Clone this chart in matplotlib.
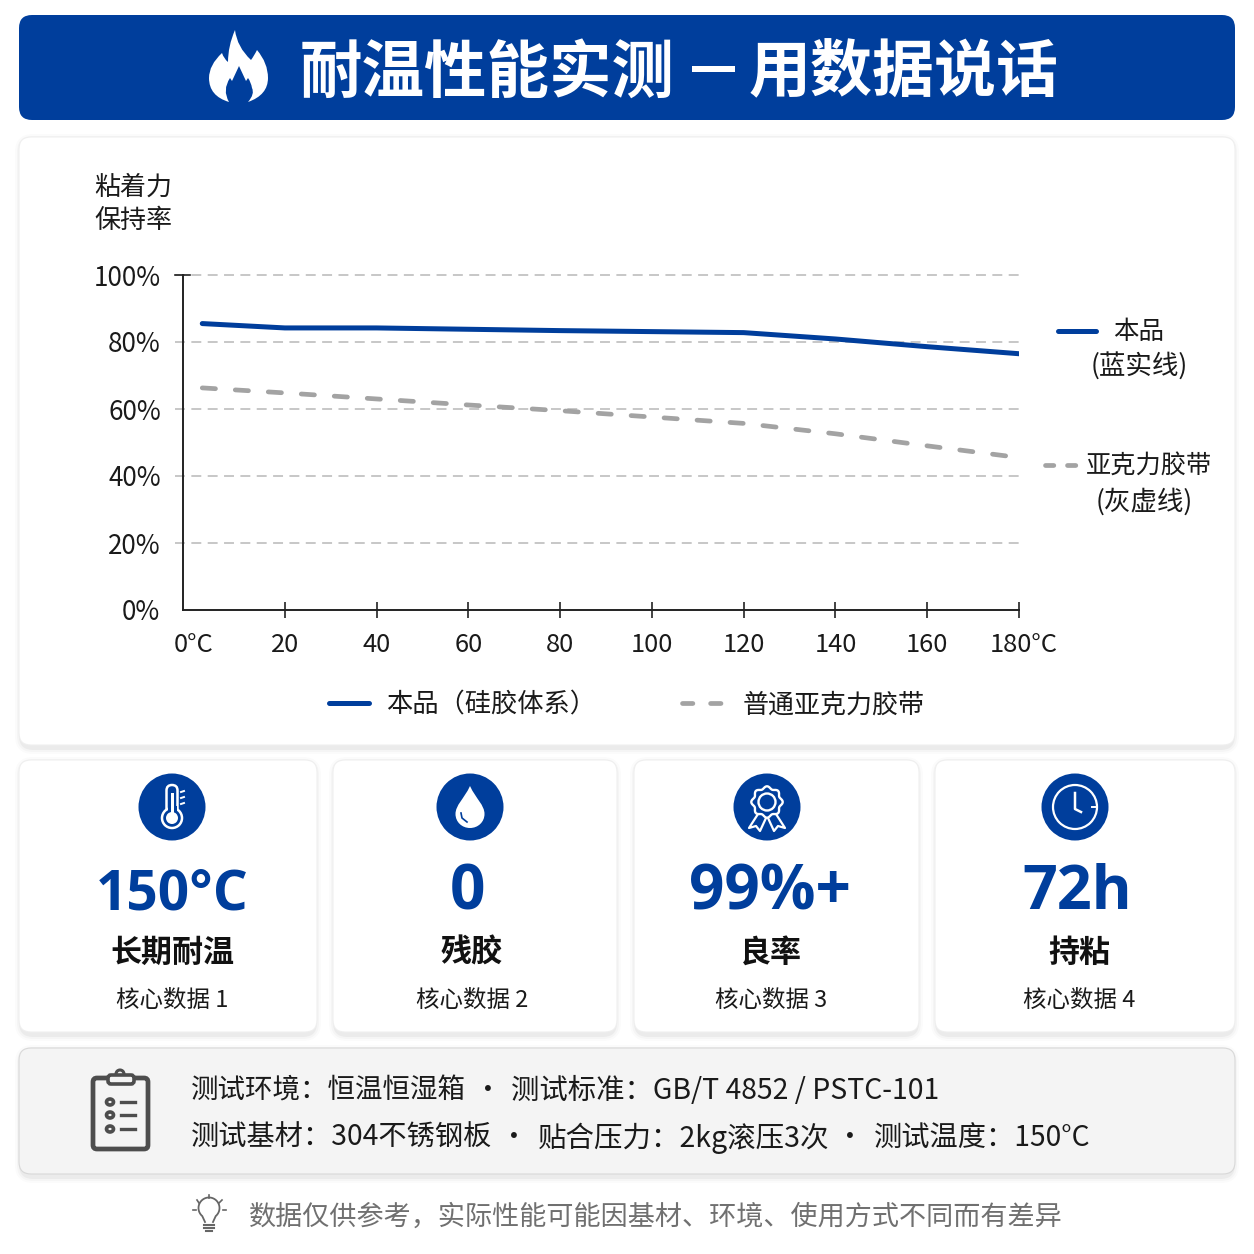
#!/usr/bin/env python3
"""Adhesion retention vs temperature infographic."""
import matplotlib
matplotlib.use("Agg")
import matplotlib.pyplot as plt
import numpy as np
from matplotlib.patches import Circle, Ellipse, FancyBboxPatch, PathPatch, Rectangle
from matplotlib.path import Path
from matplotlib.transforms import ScaledTranslation

plt.rcParams["font.family"] = ["Noto Sans CJK SC", "DejaVu Sans"]
plt.rcParams["font.weight"] = 500

temps = [2, 20, 40, 60, 80, 100, 120, 140, 160, 180]
product = [85.5, 84.2, 84.2, 83.8, 83.4, 83.1, 82.8, 80.9, 78.6, 76.5]
acrylic = [66.3, 64.8, 63.0, 61.2, 59.5, 57.6, 55.7, 52.6, 49.0, 45.5]
x_ticks = [0, 20, 40, 60, 80, 100, 120, 140, 160, 180]
x_labels = ["0°C", "20", "40", "60", "80", "100", "120", "140", "160", "180°C"]
y_ticks = [0, 20, 40, 60, 80, 100]
y_labels = ["0%", "20%", "40%", "60%", "80%", "100%"]

card_values = ["150°C", "0", "99%+", "72h"]
card_titles = ["长期耐温", "残胶", "良率", "持粘"]
card_subs = ["核心数据 1", "核心数据 2", "核心数据 3", "核心数据 4"]

BLUE = "#003e9c"
GREY = "#a3a3a3"
INK = "#1a1a1a"
W = 1254


def px(size):
    return size * 0.72


def card(ax, x0, y0, x1, y1, fc="white", ec="#efefef", r=12):
    # soft shadow first, then the card itself
    for grow, alpha in [(6, 0.015), (4, 0.025), (2, 0.04)]:
        ax.add_patch(FancyBboxPatch((x0 - grow + 2, y0 - grow + 3), x1 - x0 + 2 * grow - 4,
                                    y1 - y0 + 2 * grow,
                                    boxstyle=f"round,pad=0,rounding_size={r + grow}",
                                    fc="black", ec="none", alpha=alpha, zorder=1))
    ax.add_patch(FancyBboxPatch((x0, y0), x1 - x0, y1 - y0, boxstyle=f"round,pad=0,rounding_size={r}",
                                fc=fc, ec=ec, lw=0.8, zorder=2))


def flame(ax):
    M, C, L = Path.MOVETO, Path.CURVE3, Path.LINETO
    verts = [(235, 30), (237, 47), (251, 60), (254, 56), (257, 50), (268, 63), (268, 78), (268, 95), (248, 102),
             (255, 94), (252, 88), (251, 82), (248, 78), (246, 81), (239, 66), (232, 81), (230, 78),
             (222, 90), (229, 102), (209, 96), (209, 78), (209, 65), (222, 53), (224, 59), (228, 62),
             (228, 46), (235, 30)]
    codes = [M, C, C, C, C, C, C, C, C, C, C, C, C, L, L, L, L, C, C, C, C, C, C, C, C, C, C]
    ax.add_patch(PathPatch(Path(verts, codes), fc="white", ec="none", zorder=4))


def icon_thermo(ax, cx, cy):
    w = "white"
    ax.add_patch(FancyBboxPatch((cx - 5.5, cy - 22), 11, 34, boxstyle="round,pad=0,rounding_size=5.5",
                                fc=BLUE, ec=w, lw=1.8, zorder=5))
    ax.add_patch(Circle((cx, cy + 11), 10, fc=BLUE, ec=w, lw=1.8, zorder=5))
    ax.add_patch(Rectangle((cx - 4.5, cy - 1), 9, 8, fc=BLUE, ec="none", zorder=5))
    ax.add_patch(Circle((cx, cy + 11), 6, fc=w, ec="none", zorder=6))
    ax.add_patch(Rectangle((cx - 1.5, cy - 14), 3, 22, fc=w, ec="none", zorder=6))
    for dy in (-15, -9, -3):
        ax.plot([cx + 9, cx + 12], [cy + dy, cy + dy - 1], color=w, lw=1.4, zorder=6)


def icon_drop(ax, cx, cy):
    M, C = Path.MOVETO, Path.CURVE4
    verts = [(cx, cy - 21), (cx + 6, cy - 8), (cx + 14.5, cy - 2), (cx + 14.5, cy + 7),
             (cx + 14.5, cy + 15), (cx + 8, cy + 21), (cx, cy + 21),
             (cx - 8, cy + 21), (cx - 14.5, cy + 15), (cx - 14.5, cy + 7),
             (cx - 14.5, cy - 2), (cx - 6, cy - 8), (cx, cy - 21)]
    ax.add_patch(PathPatch(Path(verts, [M] + [C] * 12), fc="white", ec="none", zorder=5))
    ax.plot([cx - 9, cx - 8, cx - 3], [cy + 6, cy + 11, cy + 15], color=BLUE, lw=1.2, zorder=6)


def icon_ribbon(ax, cx, cy):
    w = "white"
    theta = np.linspace(0, 2 * np.pi, 200)
    r = 14.5 + 1.2 * np.cos(8 * theta)
    ax.fill(cx + r * np.cos(theta), cy - 5 + r * np.sin(theta), fc=BLUE, ec=w, lw=1.7, zorder=6)
    ax.add_patch(Circle((cx, cy - 5), 8.5, fc=BLUE, ec=w, lw=1.7, zorder=7))
    ax.plot([cx - 9, cx - 18, cx - 11, cx - 7, cx - 1], [cy + 7, cy + 21, cy + 19, cy + 24, cy + 11],
            color=w, lw=1.6, zorder=5)
    ax.plot([cx + 9, cx + 18, cx + 11, cx + 7, cx + 1], [cy + 7, cy + 21, cy + 19, cy + 24, cy + 11],
            color=w, lw=1.6, zorder=5)


def icon_clock(ax, cx, cy):
    w = "white"
    ax.add_patch(Circle((cx, cy), 22, fc="none", ec=w, lw=1.6, zorder=5))
    ax.plot([cx, cx, cx + 6], [cy - 14, cy + 2, cy + 5], color=w, lw=1.8, zorder=5)
    ax.plot([cx + 17, cx + 21], [cy, cy], color=w, lw=1.4, zorder=5)


def clipboard(ax):
    c = "#4d4d4d"
    ax.add_patch(FancyBboxPatch((93, 1078), 55, 71, boxstyle="round,pad=0,rounding_size=4",
                                fc="none", ec=c, lw=3.4, zorder=4))
    ax.add_patch(FancyBboxPatch((108, 1075), 26, 9, boxstyle="round,pad=0,rounding_size=3",
                                fc="#f4f4f4", ec=c, lw=2.6, zorder=5))
    ax.add_patch(Circle((120, 1074), 4, fc="#f4f4f4", ec=c, lw=2.2, zorder=4))
    for y in (1102, 1115, 1129):
        ax.add_patch(Ellipse((110, y), 7, 6, fc="none", ec=c, lw=2.6, zorder=5))
        ax.plot([121, 135], [y, y], color=c, lw=2.4, zorder=5)


def bulb(ax):
    c = "#666666"
    t = np.radians(np.linspace(-50, 230, 60))
    xs = np.r_[205, 209 + 10.5 * np.cos(t)[::-1], 213]
    ys = np.r_[1222, 1208 - 10.5 * np.sin(t)[::-1], 1222]
    ax.plot(xs, ys, color=c, lw=1.3, zorder=4)
    ax.plot([204, 214], [1225, 1225], color=c, lw=1.5, zorder=4)
    ax.plot([204, 214], [1228, 1228], color=c, lw=1.5, zorder=4)
    ax.plot([206, 212], [1231, 1231], color=c, lw=1.5, zorder=4)
    for x0, y0, x1, y1 in [(209, 1195, 209, 1198), (197, 1200, 199, 1203), (222, 1200, 219, 1203),
                           (193, 1210, 196, 1210), (223, 1210, 226, 1210)]:
        ax.plot([x0, x1], [y0, y1], color=c, lw=1.2, zorder=4)


fig = plt.figure(figsize=(W / 100, W / 100), dpi=100, facecolor="white")
bg = fig.add_axes([0, 0, 1, 1])
bg.set_xlim(0, W)
bg.set_ylim(W, 0)
bg.axis("off")

# header band
bg.add_patch(FancyBboxPatch((19, 15), 1216, 105, boxstyle="round,pad=0,rounding_size=13", fc=BLUE, ec="none"))
flame(bg)
bg.text(300, 73, "耐温性能实测", color="white", fontsize=px(62.5), fontweight=900, ha="left", va="center", zorder=5)
bg.add_patch(Rectangle((692, 66), 43, 6, fc="white", ec="none", zorder=5))
bg.text(749, 73, "用数据说话", color="white", fontsize=px(62), fontweight=900, ha="left", va="center", zorder=5)

# panels
card(bg, 19, 137, 1235, 745)
bounds = [(19, 317), (333, 617), (634, 919), (935, 1235)]
icon_x = [172, 470, 767, 1075]
value_x = [172, 468, 770, 1077]
value_sizes = [55, 62, 62, 61]
text_x = [172, 472, 771, 1079]
icons = [icon_thermo, icon_drop, icon_ribbon, icon_clock]
for i, (x0, x1) in enumerate(bounds):
    card(bg, x0, 760, x1, 1032)
    bg.add_patch(Ellipse((icon_x[i], 807), 67, 67, fc=BLUE, ec="none", zorder=4))
    icons[i](bg, icon_x[i], 807)
    bg.text(value_x[i], 909, card_values[i], color=BLUE, fontsize=px(value_sizes[i]), fontweight="bold",
            ha="center", va="baseline", zorder=5, family=["Open Sans", "DejaVu Sans"])
    bg.text(text_x[i], 953, card_titles[i], color="#111111", fontsize=px(31), fontweight="bold",
            ha="center", va="center", zorder=5)
    bg.text(text_x[i], 1000, card_subs[i], color=INK, fontsize=px(23.5), ha="center", va="center", zorder=5)

# test conditions
card(bg, 19, 1048, 1235, 1174, fc="#f4f4f4", ec="#d8d8d8")
clipboard(bg)
info_rows = [
    (1091, [(191, 27.5, "测试环境：恒温恒湿箱"), (511, 28.4, "测试标准：GB/T 4852 / PSTC-101")]),
    (1138, [(191, 28.2, "测试基材：304不锈钢板"), (538, 28.5, "贴合压力：2kg滚压3次"), (874, 28.2, "测试温度：150°C")]),
]
dots = [(488, 1091), (514, 1138), (850, 1138)]
for y, parts in info_rows:
    for x, size, s in parts:
        bg.text(x, y, s, color=INK, fontsize=px(size), ha="left", va="center", zorder=5)
for x, y in dots:
    bg.text(x, y, "·", color=INK, fontsize=px(28), ha="center", va="center", zorder=5)
bulb(bg)
bg.text(249, 1217, "数据仅供参考，实际性能可能因基材、环境、使用方式不同而有差异", color="#707070", fontsize=px(27.1),
        ha="left", va="center", zorder=5)

# chart, pixel box from the reference: x 183..1019, y 275..610
ax = fig.add_axes([183 / W, 1 - 610 / W, (1019 - 183) / W, (610 - 275) / W], facecolor="none", zorder=3)
ax.set_xlim(-2.2, 180)
ax.set_ylim(0, 100)
for s in ("top", "right"):
    ax.spines[s].set_visible(False)
for s in ("left", "bottom"):
    ax.spines[s].set_linewidth(1.4)
    ax.spines[s].set_color("#222222")
ax.set_yticks(y_ticks[1:], y_labels[1:], fontsize=px(26), color=INK)
ax.set_xticks(x_ticks[1:], x_labels[1:], fontsize=px(25.5), color=INK)
ax.tick_params(axis="x", direction="inout", length=12, width=1.2, pad=10, color="#222222")
ax.tick_params(axis="y", length=0, pad=16)
ax.hlines(y_ticks[1:], -3.9, 180, color="#b8b8b8", lw=1.1, ls=(0, (6.5, 4.2)), clip_on=False, zorder=1)
ax.plot(temps, product, color=BLUE, lw=3.6, solid_capstyle="round", zorder=4)
ax.plot(temps, acrylic, color=GREY, lw=3.4, ls=(0, (2.8, 4.2)), dash_capstyle="round", zorder=4)
ax.plot([-3.9, -0.7], [100, 100], color="#222222", lw=1.2, clip_on=False, zorder=3)
last = ax.get_xticklabels()[-1]
last.set_transform(last.get_transform() + ScaledTranslation(5 / 100, 0, fig.dpi_scale_trans))

bg.text(160, 612, y_labels[0], fontsize=px(26), color=INK, ha="right", va="center", zorder=5)
bg.text(194, 645, x_labels[0], fontsize=px(25.5), color=INK, ha="center", va="center", zorder=5)
bg.text(94, 187, "粘着力", fontsize=px(26), color=INK, ha="left", va="center", zorder=5)
bg.text(94, 221, "保持率", fontsize=px(26), color=INK, ha="left", va="center", zorder=5)

# direct labels and bottom legend
bg.plot([1058, 1096], [331, 331], color=BLUE, lw=3.6, solid_capstyle="round", zorder=5)
bg.text(1139, 332, "本品", fontsize=px(25.5), color=INK, ha="center", va="center", zorder=5)
bg.text(1139, 367, "(蓝实线)", fontsize=px(26.5), color=INK, ha="center", va="center", zorder=5)
bg.plot([1045, 1076], [465, 465], color=GREY, lw=3.4, ls=(0, (1.76, 2.9)), dash_capstyle="round", zorder=5)
bg.text(1149, 467, "亚克力胶带", fontsize=px(25.2), color=INK, ha="center", va="center", zorder=5)
bg.text(1144, 502, "(灰虚线)", fontsize=px(26.5), color=INK, ha="center", va="center", zorder=5)

bg.plot([329, 369], [703, 703], color=BLUE, lw=3.6, solid_capstyle="round", zorder=5)
bg.text(386, 705, "本品（硅胶体系）", fontsize=px(26.3), color=INK, ha="left", va="center", zorder=5)
bg.plot([682, 724], [703, 703], color=GREY, lw=3.4, ls=(0, (2.2, 3.75)), dash_capstyle="round", zorder=5)
bg.text(743, 705, "普通亚克力胶带", fontsize=px(26), color=INK, ha="left", va="center", zorder=5)

fig.savefig("out.png", dpi=100, facecolor="white")
